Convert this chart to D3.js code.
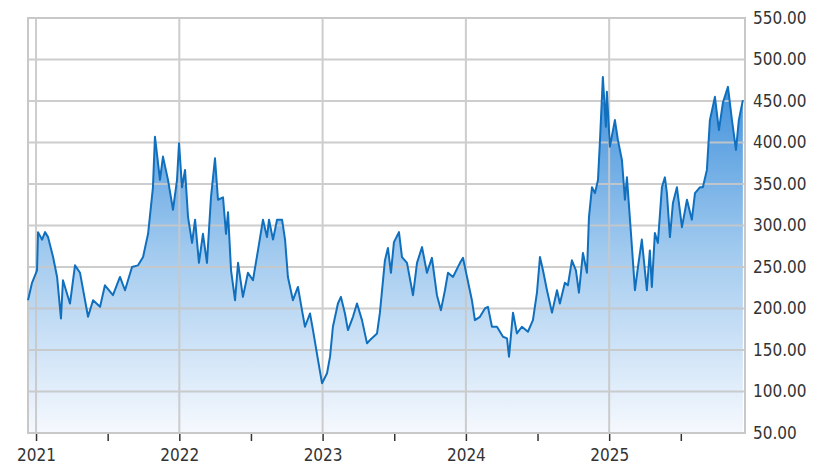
<!DOCTYPE html>
<html>
<head>
<meta charset="utf-8">
<script src="https://cdnjs.cloudflare.com/ajax/libs/d3/7.8.5/d3.min.js"></script>
<style>
  body { margin: 0; background: #fff; }
  text { font-family: "DejaVu Sans Condensed", "DejaVu Sans", sans-serif; font-size: 17px; fill: #333; }
</style>
</head>
<body>
<svg id="chart" width="837" height="476"></svg>
<script>
// time as decimal years, price values
var times = [2020.944, 2020.972, 2021.007, 2021.014, 2021.042, 2021.063, 2021.084, 2021.119, 2021.147, 2021.174,
    2021.188, 2021.216, 2021.237, 2021.272, 2021.307, 2021.342, 2021.363, 2021.398, 2021.447, 2021.481,
    2021.537, 2021.586, 2021.621, 2021.670, 2021.712, 2021.747, 2021.782, 2021.816, 2021.830, 2021.865,
    2021.886, 2021.921, 2021.956, 2021.984, 2021.998, 2022.019, 2022.040, 2022.061, 2022.089, 2022.110,
    2022.137, 2022.165, 2022.193, 2022.221, 2022.249, 2022.270, 2022.305, 2022.326, 2022.340, 2022.361,
    2022.389, 2022.410, 2022.444, 2022.479, 2022.514, 2022.549, 2022.584, 2022.612, 2022.626, 2022.654,
    2022.682, 2022.717, 2022.738, 2022.758, 2022.793, 2022.828, 2022.856, 2022.877, 2022.912, 2022.933,
    2022.968, 2022.996, 2023.031, 2023.052, 2023.072, 2023.107, 2023.128, 2023.156, 2023.177, 2023.212,
    2023.240, 2023.275, 2023.310, 2023.331, 2023.380, 2023.400, 2023.435, 2023.456, 2023.477, 2023.498,
    2023.533, 2023.554, 2023.589, 2023.631, 2023.659, 2023.694, 2023.728, 2023.763, 2023.798, 2023.826,
    2023.854, 2023.875, 2023.910, 2023.959, 2023.980, 2024.008, 2024.042, 2024.063, 2024.098, 2024.133,
    2024.154, 2024.182, 2024.217, 2024.259, 2024.287, 2024.301, 2024.329, 2024.356, 2024.391, 2024.433,
    2024.468, 2024.496, 2024.517, 2024.538, 2024.566, 2024.601, 2024.636, 2024.656, 2024.691, 2024.712,
    2024.740, 2024.768, 2024.789, 2024.817, 2024.845, 2024.859, 2024.880, 2024.901, 2024.922, 2024.936,
    2024.956, 2024.977, 2024.984, 2025.005, 2025.040, 2025.061, 2025.089, 2025.110, 2025.124, 2025.152,
    2025.180, 2025.201, 2025.228, 2025.263, 2025.284, 2025.298, 2025.319, 2025.340, 2025.368, 2025.389,
    2025.403, 2025.424, 2025.445, 2025.473, 2025.508, 2025.543, 2025.577, 2025.599, 2025.633, 2025.654,
    2025.682, 2025.703, 2025.738, 2025.766, 2025.794, 2025.829, 2025.857, 2025.885, 2025.905, 2025.933];
var prices = [210, 231, 246, 292, 283, 292, 286, 262, 238, 188,
    234, 218, 206, 252, 243, 210, 190, 210, 202, 228,
    216, 238, 222, 250, 252, 262, 290, 346, 407, 355,
    383, 355, 319, 355, 399, 346, 367, 310, 279, 307,
    255, 290, 255, 334, 381, 331, 334, 290, 316, 246,
    210, 255, 214, 243, 234, 270, 307, 286, 307, 283,
    307, 307, 283, 238, 210, 226, 198, 178, 194, 174,
    138, 110, 122, 142, 178, 206, 214, 194, 174, 190,
    206, 186, 158, 162, 170, 195, 258, 273, 243, 280,
    292, 262, 255, 216, 255, 274, 243, 261, 216, 198,
    222, 243, 238, 255, 261, 238, 210, 186, 190, 200,
    202, 178, 178, 166, 164, 142, 195, 170, 178, 172,
    186, 219, 262, 246, 222, 195, 222, 206, 231, 228,
    258, 246, 219, 267, 243, 310, 346, 339, 355, 403,
    479, 419, 461, 395, 427, 403, 379, 331, 358, 291,
    222, 250, 283, 222, 270, 226, 291, 279, 346, 358,
    339, 286, 327, 346, 298, 331, 307, 339, 346, 346,
    367, 427, 455, 415, 448, 467, 427, 391, 427, 451];
var yTicks = [50, 100, 150, 200, 250, 300, 350, 400, 450, 500, 550];
var yearTicks = [2021, 2022, 2023, 2024, 2025];
var halfTicks = [2021.5, 2022.5, 2023.5, 2024.5, 2025.5];

(function () {
    var data = times.map(function(t, i){ return {t: t, v: prices[i]}; });

    var svg = d3.select('#chart');
    var left = 28, right = 745, plotTop = 18, bottom = 433;

    var x = d3.scaleLinear().domain([2020.944, 2025.948]).range([left, right]);
    var y = d3.scaleLinear().domain([50, 550]).range([bottom, plotTop]);

    //gradient for the area
    var grad = svg.append('defs').append('linearGradient')
        .attr('id', 'fillGrad')
        .attr('gradientUnits', 'userSpaceOnUse')
        .attr('x1', 0).attr('x2', 0)
        .attr('y1', y(480)).attr('y2', bottom);
    grad.append('stop').attr('offset', '0%').attr('stop-color', '#3b8edb');
    grad.append('stop').attr('offset', '50%').attr('stop-color', '#a3cbef');
    grad.append('stop').attr('offset', '100%').attr('stop-color', '#f6f9fe');

    svg.append('path')
        .datum(data)
        .attr('fill', 'url(#fillGrad)')
        .attr('d', d3.area().x(function(d){ return x(d.t); }).y0(bottom).y1(function(d){ return y(d.v); }));

    //grid on top of fill
    var grid = svg.append('g').attr('stroke', '#c8c8c8').attr('stroke-width', 2).attr('opacity', 0.9);
    grid.selectAll('.hg').data(yTicks).enter().append('line')
        .attr('x1', left).attr('x2', right)
        .attr('y1', function(d){ return y(d); }).attr('y2', function(d){ return y(d); });
    grid.selectAll('.vg').data(yearTicks).enter().append('line')
        .attr('y1', plotTop).attr('y2', bottom)
        .attr('x1', function(d){ return x(d); }).attr('x2', function(d){ return x(d); });

    svg.append('rect')
        .attr('x', left).attr('y', plotTop).attr('width', right - left).attr('height', bottom - plotTop)
        .attr('fill', 'none').attr('stroke', '#c8c8c8').attr('stroke-width', 2);

    svg.append('path')
        .datum(data)
        .attr('fill', 'none')
        .attr('stroke', '#1170be')
        .attr('stroke-width', 2)
        .attr('stroke-linejoin', 'round')
        .attr('d', d3.line().x(function(d){ return x(d.t); }).y(function(d){ return y(d.v); }));

    //right axis
    var yAxis = d3.axisRight(y).tickValues(yTicks).tickSize(0).tickPadding(8)
        .tickFormat(function(d){ return d.toFixed(2); });
    var ya = svg.append('g').attr('transform', 'translate(' + right + ',0)').call(yAxis);
    ya.select('.domain').remove();
    ya.selectAll('text').style('font-size', '17px').attr('fill', '#333');

    //bottom axis
    var xAxis = d3.axisBottom(x).tickValues(yearTicks.concat(halfTicks)).tickSize(7).tickPadding(8)
        .tickFormat(function(d){ return d % 1 === 0 ? String(d) : ''; });
    var xa = svg.append('g').attr('transform', 'translate(0,' + (bottom + 1) + ')').call(xAxis);
    xa.select('.domain').remove();
    xa.selectAll('line').attr('stroke', '#333').attr('stroke-width', 1.5);
    xa.selectAll('text').style('font-size', '17px').attr('fill', '#333');
}());
</script>
</body>
</html>
